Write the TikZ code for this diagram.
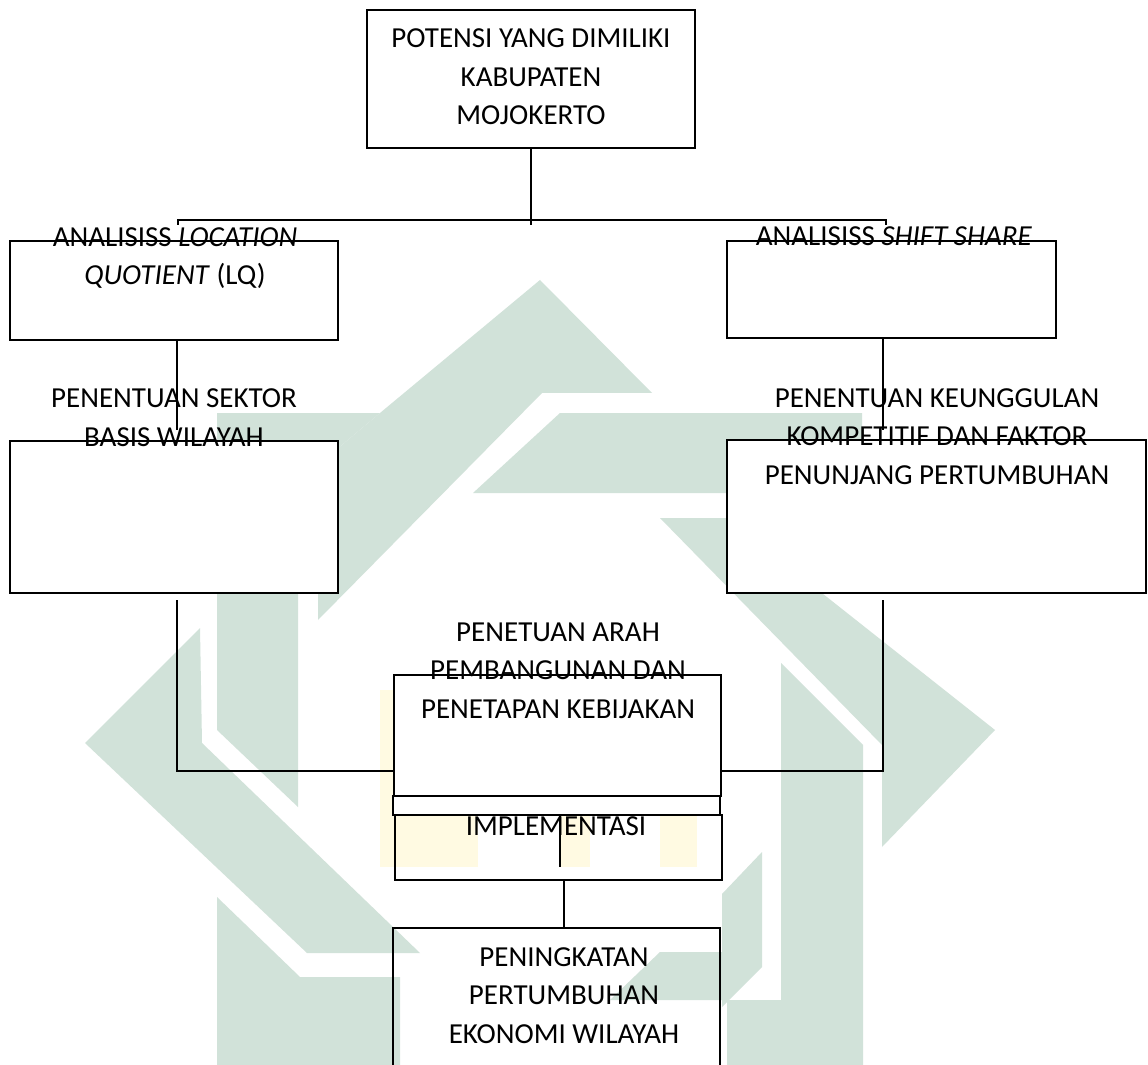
\documentclass[tikz,border=0pt]{standalone}
\usepackage{fontspec}
\setmainfont{Carlito}
\usepackage{xcolor}
\definecolor{wmhijau}{RGB}{209,226,217}
\definecolor{wmkuning}{RGB}{255,250,226}

\begin{document}
\begin{tikzpicture}[x=0.5pt, y=-0.5pt]

\tikzset{
  kotak/.style={draw=black, fill=white, line width=0.9pt, inner sep=0pt, outer sep=0pt},
  kotakbening/.style={draw=black, line width=1.3pt, inner sep=0pt, outer sep=0pt},
  teks/.style={anchor=base, align=center, inner sep=0pt,
    font=\fontsize{14.5pt}{19.25pt}\selectfont},
  garis/.style={line width=0.9pt}
}

% === Bidang gambar ===
\clip (0,0) rectangle (1148,1065);
\fill[white] (0,0) rectangle (1148,1065);

% === Watermark (latar) ===
\fill[wmhijau] (540,280) -- (652,393) -- (542,393) -- (318,620) -- (318,465) -- (380,413) -- cycle;
\fill[wmhijau] (217,413) -- (380,413) -- (318,465) -- (298,465) -- (298,807) -- (217,730) -- cycle;
\fill[wmhijau] (560,413) -- (862,413) -- (862,493) -- (473,493) -- cycle;
\fill[wmhijau] (660,518) -- (727,518) -- (995,730) -- (882,847) -- (882,745) -- cycle;
\fill[wmhijau] (781,663) -- (863,745) -- (863,1065) -- (727,1065) -- (727,1000) -- (781,1000) -- cycle;
\fill[wmhijau] (722,894) -- (762,852) -- (762,967) -- (722,1007) -- cycle;
\fill[wmhijau] (200,628) -- (202,743) -- (420,953) -- (307,953) -- (85,743) -- cycle;
\fill[wmhijau] (217,897) -- (300,977) -- (400,977) -- (400,1065) -- (217,1065) -- cycle;
\fill[wmhijau] (660,952) -- (722,952) -- (722,1000) -- (610,1000) -- cycle;

% huruf kuning samar di tengah
\fill[wmkuning] (380,690) rectangle (478,867);
\fill[wmkuning] (560,815) rectangle (590,867);
\fill[wmkuning] (660,815) rectangle (697,867);

% === Kotak ===
\node[kotak, minimum width=164pt, minimum height=69pt] (potensi) at (531,79) {};
\node[kotak, minimum width=164pt, minimum height=49.5pt] (lq) at (174,290.5) {};
\node[kotak, minimum width=164.5pt, minimum height=48.5pt] (ss) at (891.5,289.5) {};
\node[kotak, minimum width=164pt, minimum height=76pt] (sektor) at (174,517) {};
\node[kotak, minimum width=209.5pt, minimum height=76.5pt] (kompetitif) at (936.5,516.5) {};
\node[kotak, minimum width=163.5pt, minimum height=60.5pt] (arah) at (557.5,735.5) {};
\node[kotakbening, minimum width=163.5pt, minimum height=32.5pt] (implementasi) at (558.5,847.5) {};
\node[kotak, line width=1.4pt, minimum width=163.5pt, minimum height=9.5pt] (pita) at (556.5,805.5) {};
\node[kotakbening, line width=0.9pt, minimum width=163.5pt, minimum height=86pt] (hasil) at (556.5,1014) {};

% === Titik bantu garis ===
\coordinate (cabang) at (531,225);
\coordinate (cabKiri) at (178,225);
\coordinate (cabKanan) at (886,225);
\coordinate (lqUjung) at (177,430);
\coordinate (ssUjung) at (883,430);
\coordinate (sektorAwal) at (177,600);
\coordinate (kompAwal) at (883,600);
\coordinate (temuKiri) at (177,771);
\coordinate (temuKanan) at (883,771);
\coordinate (impTengah) at (560,867);

% === Garis penghubung ===
\draw[garis] (potensi.south) -- (cabang);
\draw[garis] (cabKiri) -- ++(0,-5) -- ([yshift=2.5pt]cabKanan) -- (cabKanan);
\draw[garis] (lq.south -| lqUjung) -- (lqUjung);
\draw[garis] (ss.south -| ssUjung) -- (ssUjung);
\draw[garis] (sektorAwal) -- (temuKiri) -- (temuKiri -| arah.west);
\draw[garis] (kompAwal) -- (temuKanan) -- (temuKanan -| arah.east);
\draw[garis] (pita.south -| impTengah) -- (impTengah);
\draw[garis] ([xshift=2.75pt]implementasi.south) -- ([xshift=2.75pt]implementasi.south |- hasil.north);

% === Teks (titik = garis dasar baris terakhir) ===
\node[teks] (tPotensi) at (531,125) {POTENSI YANG DIMILIKI\\KABUPATEN\\MOJOKERTO};
\node[teks] (tLq) at (175,285) {ANALISISS \textit{LOCATION}\\\textit{QUOTIENT} (LQ)};
\node[teks] (tSs) at (894,246) {ANALISISS \textit{SHIFT SHARE}};
\node[teks] (tSektor) at (174,446) {PENENTUAN SEKTOR\\BASIS WILAYAH};
\node[teks] (tKomp) at (937,484) {PENENTUAN KEUNGGULAN\\KOMPETITIF DAN FAKTOR\\PENUNJANG PERTUMBUHAN};
\node[teks] (tArah) at (558,718) {PENETUAN ARAH\\PEMBANGUNAN DAN\\PENETAPAN KEBIJAKAN};
\node[teks] (tImpl) at (556,835) {IMPLEMENTASI};
\node[teks] (tHasil) at (564,1043) {PENINGKATAN\\PERTUMBUHAN\\EKONOMI WILAYAH};

\end{tikzpicture}
\end{document}
